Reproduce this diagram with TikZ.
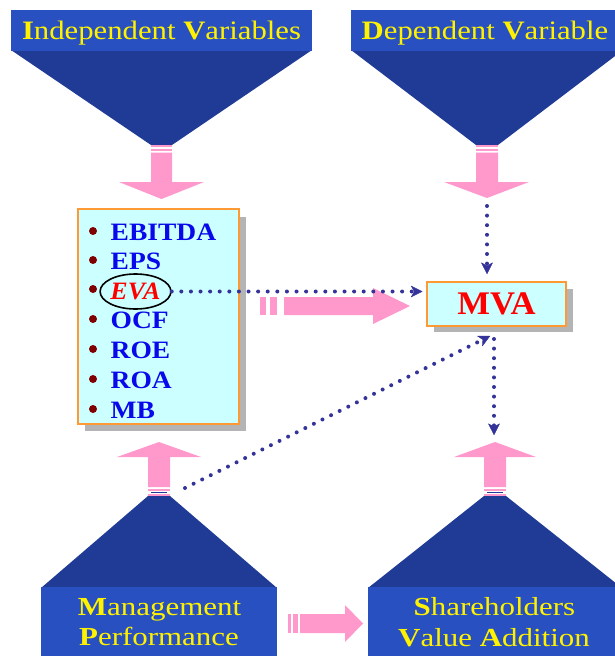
\documentclass[tikz,border=0pt]{standalone}
\usepackage{fontspec}
\setmainfont{Liberation Serif}
\usetikzlibrary{arrows.meta,shapes.geometric}
\definecolor{hdrblue}{RGB}{40,80,192}
\definecolor{tri}{RGB}{32,59,150}
\definecolor{pinkc}{RGB}{255,153,204}
\definecolor{navy}{RGB}{51,51,153}
\definecolor{listblue}{RGB}{8,8,235}
\definecolor{boxfill}{RGB}{204,255,255}
\definecolor{boxline}{RGB}{255,153,51}
\definecolor{shadowc}{RGB}{180,180,180}
\definecolor{bulletc}{RGB}{128,0,0}
\newcommand{\hdrtext}[1]{\scalebox{1.155}[1]{\fontsize{26.6}{30}\selectfont #1}}
\newcommand{\bottext}[1]{\scalebox{1.19}[1]{\fontsize{26}{30}\selectfont #1}}
\newcommand{\listtext}[1]{\scalebox{1.1}[1]{\fontsize{25}{28}\selectfont\bfseries #1}}
\begin{document}
\begin{tikzpicture}[x=1pt,y=-1pt,
  hdr/.style={text=yellow, inner sep=0pt, anchor=base},
  itm/.style={text=listblue, inner sep=0pt, anchor=base west},
  dotline/.style={navy, line width=4pt, line cap=round, dash pattern=on 0pt off 9.6pt,
     -{Stealth[length=12pt,width=12pt,inset=3.5pt,line width=0.4pt,round]}},
  pinkfill/.style={fill=pinkc},
]
\useasboundingbox (0,0) rectangle (615,656);
\clip (0,0) rectangle (615,656);

% ---------- top-left header ----------
\fill[tri] (11,50) -- (312,50) -- (172,145) -- (151,145) -- cycle;
\fill[hdrblue] (11,10) rectangle (312,51);
\node[hdr] (indep) at (161.5,39.5) {\hdrtext{\textbf{I}ndependent \textbf{V}ariables}};
\fill[pinkfill] (151,145) rectangle (172,147);
\fill[pinkfill] (151,148.5) rectangle (172,151);
\fill[pinkfill] (151,152.5) -- (172,152.5) -- (172,182) -- (204,182) -- (161.5,199) -- (119,182) -- (151,182) -- cycle;

% ---------- top-right header ----------
\fill[tri] (351,50) -- (623,50) -- (498,145) -- (476,145) -- cycle;
\fill[hdrblue] (351,10) rectangle (623,51);
\node[hdr] (dep) at (485,39.5) {\hdrtext{\textbf{D}ependent \textbf{V}ariable}};
\fill[pinkfill] (476,145) rectangle (498,147);
\fill[pinkfill] (476,148.5) rectangle (498,151);
\fill[pinkfill] (476,152.5) -- (498,152.5) -- (498,182) -- (529,182) -- (487,198) -- (444,182) -- (476,182) -- cycle;

% ---------- list box ----------
\fill[shadowc] (85,217) rectangle (246,431);
\node[draw=boxline, fill=boxfill, line width=1.2pt, minimum width=161pt, minimum height=215pt, inner sep=0pt] (list) at (158.5,316.5) {};
\foreach \yy in {240,269,298,328,358,388,418}
  \fill[bulletc] (93,\yy-9) circle (4);
\node[itm] (ebitda) at (110.5,240) {\listtext{EBITDA}};
\node[itm] (eps) at (110.5,269) {\listtext{EPS}};
\node[ellipse, draw=black, line width=1.6pt, minimum width=65pt, minimum height=35pt, inner sep=0pt] (eva) at (135.5,291.5)
  {\textcolor{red}{\scalebox{1.04}[1]{\fontsize{25}{28}\selectfont\bfseries\itshape EVA}}};
\node[itm] (ocf) at (110.5,328) {\listtext{OCF}};
\node[itm] (roe) at (110.5,358) {\listtext{ROE}};
\node[itm] (roa) at (110.5,388) {\listtext{ROA}};
\node[itm] (mb) at (110.5,418) {\listtext{MB}};

% ---------- MVA box ----------
\fill[shadowc] (434,289) rectangle (573,332);
\node[draw=boxline, fill=boxfill, line width=1.2pt, minimum width=139pt, minimum height=44pt, inner sep=0pt, text=red] (mva) at (496.5,304)
  {\scalebox{1.05}[1]{\fontsize{33}{36}\selectfont\bfseries MVA}};

% middle pink arrow
\fill[pinkfill] (260,297) rectangle (266,315);
\fill[pinkfill] (270,297) rectangle (277,315);
\fill[pinkfill] (284,297) -- (373,297) -- (373,288) -- (410,306) -- (373,324) -- (373,315) -- (284,315) -- cycle;

% ---------- bottom-left ----------
\fill[tri] (41,588) -- (277,588) -- (170,496) -- (148,496) -- cycle;
\fill[hdrblue] (41,587) rectangle (277,660);
\node[hdr] (mgmt) at (159.5,615) {\bottext{\textbf{M}anagement}};
\node[hdr] (perf) at (159,645) {\bottext{\textbf{P}erformance}};
\fill[pinkfill] (148,493.5) rectangle (170,495.5);
\fill[tri] (151,492) rectangle (167,493);
\fill[pinkfill] (148,488.5) rectangle (170,491);
\fill[pinkfill] (148,487) -- (170,487) -- (170,457) -- (201,457) -- (159,442) -- (117,457) -- (148,457) -- cycle;

% ---------- bottom-right ----------
\fill[tri] (368,588) -- (622,588) -- (506,496) -- (484,496) -- cycle;
\fill[hdrblue] (368,587) rectangle (622,660);
\node[hdr] (share) at (494.5,615) {\bottext{\textbf{S}hareholders}};
\node[hdr] (value) at (494,646) {\bottext{\textbf{V}alue \textbf{A}ddition}};
\fill[pinkfill] (484,493.5) rectangle (506,495.5);
\fill[tri] (487,492) rectangle (503,493);
\fill[pinkfill] (484,488.5) rectangle (506,491);
\fill[pinkfill] (484,487) -- (506,487) -- (506,457) -- (536,457) -- (495,442) -- (454,457) -- (484,457) -- cycle;

% bottom pink arrow
\fill[pinkfill] (288,614) rectangle (291,633);
\fill[pinkfill] (293,614) rectangle (298,633);
\fill[pinkfill] (300,614) -- (345,614) -- (345,605) -- (363,623.5) -- (345,642) -- (345,633) -- (300,633) -- cycle;

% ---------- dotted connectors ----------
\coordinate (topdot) at (487,206);
\coordinate (topdotend) at (487,274);
\coordinate (botdot) at (494,339);
\coordinate (botdotend) at (494,435);
\coordinate (diagstart) at (185,488);
\coordinate (diagend) at (490,336);
\draw[dotline] (eva.east) -- ([xshift=-4pt]eva.east -| mva.west);
\draw[dotline] (topdot) -- (topdotend);
\draw[dotline] (botdot) -- (botdotend);
\draw[dotline] (diagstart) -- (diagend);
\end{tikzpicture}
\end{document}
